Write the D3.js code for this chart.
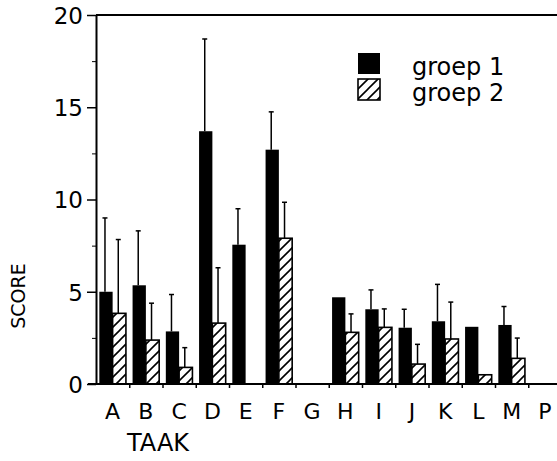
<html>
<head>
    <meta charset="utf-8">
    <title>SCORE per TAAK</title>
    <script src="https://d3js.org/d3.v7.min.js" charset="utf-8"></script>
    <style>
        body { margin: 0; background: #fff; }
        text { font-family: "DejaVu Sans", sans-serif; fill: #000; }
    </style>
</head>
<body>
<div id="main-svg"></div>
<script>
    // data
    var taken = ["A", "B", "C", "D", "E", "F", "G", "H", "I", "J", "K", "L", "M", "P"];
    var groepen = ["groep 1", "groep 2"];
    var groep1 = [5.0, 5.35, 2.85, 13.7, 7.55, 12.7, null, 4.7, 4.05, 3.05, 3.4, 3.1, 3.2, null];
    var groep1Sd = [4.0, 2.95, 2.0, 5.0, 1.95, 2.05, null, 0, 1.05, 1.0, 2.0, 0, 1.0, null];
    var groep2 = [3.83, 2.38, 0.9, 3.3, null, 7.9, null, 2.8, 3.07, 1.08, 2.44, 0.5, 1.39, null];
    var groep2Sd = [4.0, 2.0, 1.07, 3.0, null, 1.95, null, 1.0, 1.0, 1.07, 2.0, 0, 1.1, null];
    var yTicks = [0, 5, 10, 15, 20];
    var yMinorTicks = [2.5, 7.5, 12.5, 17.5];

    var width = 557, height = 461;
    var plotL = 96, plotT = 15, plotB = 384, plotR = 561.5;

    var svg = d3.select("#main-svg").append("svg")
        .attr("width", width)
        .attr("height", height);

    // hatch pattern for groep 2
    var pat = svg.append("defs").append("pattern")
        .attr("id", "hatch")
        .attr("patternUnits", "userSpaceOnUse")
        .attr("width", 10)
        .attr("height", 10);
    pat.append("rect").attr("width", 10).attr("height", 10).attr("fill", "#fff");
    pat.append("path")
        .attr("d", "M-2,2 L2,-2 M0,10 L10,0 M8,12 L12,8")
        .attr("stroke", "#000")
        .attr("stroke-width", 1.6);

    var x = d3.scaleBand().domain(taken).range([plotL, plotR]).paddingInner(0).paddingOuter(0);
    var xSub = d3.scaleBand().domain(groepen).range([0, x.bandwidth()]).paddingInner(0).paddingOuter(0.25);
    var y = d3.scaleLinear().domain([0, 20]).range([plotB, plotT]);

    // rows for bars
    var rows = [];
    taken.forEach(function (t, i) {
        rows.push({ taak: t, groep: groepen[0], v: groep1[i], sd: groep1Sd[i] });
        rows.push({ taak: t, groep: groepen[1], v: groep2[i], sd: groep2Sd[i] });
    });
    rows = rows.filter(function (d) { return d.v != null; });

    // bars
    svg.append("g").selectAll("rect")
        .data(rows)
        .enter()
        .append("rect")
        .attr("x", function (d) { return x(d.taak) + xSub(d.groep); })
        .attr("y", function (d) { return y(d.v); })
        .attr("width", xSub.bandwidth())
        .attr("height", function (d) { return y(0) - y(d.v); })
        .attr("fill", function (d) { return d.groep == groepen[0] ? "#000" : "url(#hatch)"; })
        .attr("stroke", "#000")
        .attr("stroke-width", function (d) { return d.groep == groepen[0] ? 0 : 1.6; });

    // error bars (upper only)
    var errRows = rows.filter(function (d) { return d.sd > 0; });
    var eb = svg.append("g").attr("stroke", "#000").attr("stroke-width", 1.5);
    eb.selectAll("line.err")
        .data(errRows)
        .enter()
        .append("line")
        .attr("class", "err")
        .attr("x1", function (d) { return x(d.taak) + xSub(d.groep) + xSub.bandwidth() / 2 - 1; })
        .attr("x2", function (d) { return x(d.taak) + xSub(d.groep) + xSub.bandwidth() / 2 - 1; })
        .attr("y1", function (d) { return y(d.v); })
        .attr("y2", function (d) { return y(d.v + d.sd); });
    eb.selectAll("line.cap")
        .data(errRows)
        .enter()
        .append("line")
        .attr("class", "cap")
        .attr("x1", function (d) { return x(d.taak) + xSub(d.groep) + xSub.bandwidth() / 2 - 3.5; })
        .attr("x2", function (d) { return x(d.taak) + xSub(d.groep) + xSub.bandwidth() / 2 + 1.5; })
        .attr("y1", function (d) { return y(d.v + d.sd); })
        .attr("y2", function (d) { return y(d.v + d.sd); });

    // y axis
    var yAxis = svg.append("g")
        .attr("transform", "translate(" + plotL + ",0)")
        .call(d3.axisLeft(y).tickValues(yTicks).tickSize(9).tickSizeOuter(0).tickPadding(4));
    yAxis.select(".domain").attr("stroke-width", 2);
    yAxis.selectAll(".tick line").attr("stroke-width", 1.5);
    yAxis.selectAll("text").style("font-size", "23px").attr("dy", "0.36em");

    var yMinor = svg.append("g")
        .attr("transform", "translate(" + plotL + ",0)")
        .call(d3.axisLeft(y).tickValues(yMinorTicks).tickSize(4).tickFormat(""));
    yMinor.select(".domain").remove();

    // top frame line
    svg.append("line")
        .attr("x1", plotL).attr("x2", width)
        .attr("y1", y(20)).attr("y2", y(20))
        .attr("stroke", "#000").attr("stroke-width", 2);

    // x axis: boundary ticks
    var xIdx = d3.scaleLinear().domain([0, taken.length]).range([plotL, plotR]);
    var xAxis = svg.append("g")
        .attr("transform", "translate(0," + plotB + ")")
        .call(d3.axisBottom(xIdx).tickValues(d3.range(1, taken.length)).tickSize(4).tickFormat("").tickSizeOuter(0));
    xAxis.select(".domain").remove();
    xAxis.selectAll(".tick line").attr("stroke-width", 1.5);
    svg.append("line")
        .attr("x1", plotL - 8).attr("x2", width)
        .attr("y1", plotB).attr("y2", plotB)
        .attr("stroke", "#000").attr("stroke-width", 2);

    // category labels
    var xLab = svg.append("g")
        .attr("transform", "translate(0," + plotB + ")")
        .call(d3.axisBottom(x).tickSize(0).tickPadding(19));
    xLab.select(".domain").remove();
    xLab.selectAll("text").style("font-size", "22px");

    // axis titles
    svg.append("text")
        .attr("x", 127).attr("y", 451)
        .style("font-size", "24px")
        .text("TAAK");
    svg.append("text")
        .attr("transform", "translate(25,296) rotate(-90)")
        .attr("text-anchor", "middle")
        .style("font-size", "19px")
        .text("SCORE");

    // legend
    var leg = svg.append("g").selectAll("g")
        .data(groepen)
        .enter()
        .append("g")
        .attr("transform", function (d, i) { return "translate(358," + (53 + i * 26) + ")"; });
    leg.append("rect")
        .attr("width", 22).attr("height", 21)
        .attr("fill", function (d, i) { return i == 0 ? "#000" : "url(#hatch)"; })
        .attr("stroke", "#000")
        .attr("stroke-width", function (d, i) { return i == 0 ? 0 : 1.6; });
    leg.append("text")
        .attr("x", 54).attr("y", 22)
        .style("font-size", "24px")
        .text(function (d) { return d; });
</script>
</body>
</html>
